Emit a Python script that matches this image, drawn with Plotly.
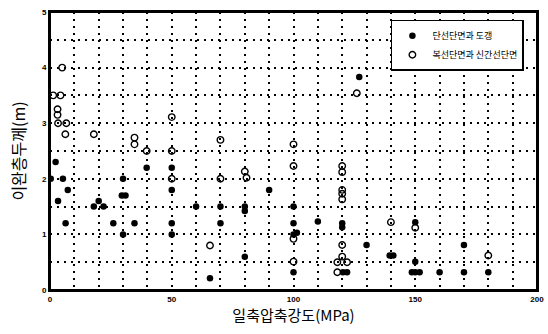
import plotly.graph_objects as go

# 단선단면과 도갱 (filled)
filled_x = [0.3, 2.3, 5.3, 3.3, 7.3, 6.4, 18, 20, 22, 26, 30, 29.5, 31, 30, 34.7, 39.7, 50, 50, 50, 50,
            60, 70, 70, 80, 80, 80, 65.7, 90, 100, 100, 100, 101.4, 100, 110, 120, 120, 120.3, 122,
            127, 130, 139.5, 141, 150, 150, 148.6, 150, 151.8, 160, 170, 170, 180]
filled_y = [2.0, 2.3, 2.0, 1.6, 1.8, 1.2, 1.5, 1.6, 1.5, 1.2, 2.0, 1.7, 1.7, 1.0, 1.2, 2.2, 2.2, 1.8, 1.2, 1.0,
            1.5, 1.5, 1.2, 1.5, 1.42, 0.6, 0.21, 1.8, 1.5, 1.2, 1.0, 1.03, 0.32, 1.23, 1.2, 1.13, 0.32, 0.32,
            3.83, 0.81, 0.62, 0.62, 1.22, 0.51, 0.32, 0.32, 0.32, 0.32, 0.81, 0.32, 0.32]

# 복선단면과 신간선단면 (open)
open_x = [1.3, 4.3, 5, 3.1, 3.1, 3.3, 6.7, 6.3, 18, 34.7, 34.7, 39.7, 50, 50, 50,
          70, 70, 80, 80.7, 65.7, 100, 100, 100, 100, 120, 120, 120, 120, 120, 120, 120, 122, 118, 118,
          126, 140, 150, 180]
open_y = [3.5, 3.5, 4.0, 3.25, 3.15, 3.0, 3.0, 2.8, 2.8, 2.74, 2.62, 2.5, 3.11, 2.5, 2.0,
          2.7, 2.0, 2.13, 2.02, 0.8, 2.62, 2.23, 0.92, 0.51, 2.23, 2.12, 1.8, 1.73, 1.63, 0.81, 0.6, 0.5, 0.5, 0.32,
          3.54, 1.22, 1.12, 0.62]

x_ticks = [0, 50, 100, 150, 200]
y_ticks = [0, 1, 2, 3, 4, 5]

fig = go.Figure()
fig.add_trace(go.Scatter(x=filled_x, y=filled_y, mode="markers", name="단선단면과 도갱",
                         marker=dict(symbol="circle", size=6.5, color="black", line=dict(color="black", width=0))))
fig.add_trace(go.Scatter(x=open_x, y=open_y, mode="markers", name="복선단면과 신간선단면",
                         marker=dict(symbol="circle-open", size=6.5, color="black", line=dict(color="black", width=1.4))))

DASH = "2px,5px"
axis_common = dict(showline=True, linecolor="black", linewidth=2, mirror=True, zeroline=False,
                   showgrid=True, gridcolor="black", griddash=DASH, gridwidth=1.5,
                   ticks="", automargin=False,
                   tickfont=dict(family="Liberation Sans", size=8, color="black", weight="bold"))

fig.update_layout(
    width=548, height=334,
    margin=dict(l=50, r=11, t=12, b=44),
    paper_bgcolor="white", plot_bgcolor="white",
    showlegend=True,
    legend=dict(x=0.70, y=0.972, xanchor="left", yanchor="top", bgcolor="white",
                bordercolor="black", borderwidth=1.5,
                font=dict(family="Noto Sans CJK KR", size=9, color="black"),
                itemwidth=30, tracegroupgap=0),
    xaxis=dict(range=[0, 200], tickvals=x_ticks, ticktext=[str(v) for v in x_ticks],
               minor=dict(dtick=10, showgrid=True, gridcolor="black", griddash=DASH, gridwidth=1.5),
               title=dict(text="일축압축강도(MPa)", font=dict(family="Noto Sans CJK KR", size=15, color="black"),
                          standoff=6),
               **axis_common),
    yaxis=dict(range=[0, 5], tickvals=y_ticks, ticktext=[str(v) for v in y_ticks],
               minor=dict(dtick=0.5, showgrid=True, gridcolor="black", griddash=DASH, gridwidth=1.5),
               title=dict(text="이완층두께(m)", font=dict(family="Noto Sans CJK KR", size=16, color="black"),
                          standoff=12),
               **axis_common),
    shapes=[dict(type="rect", xref="x domain", yref="y domain", x0=0, x1=1, y0=0, y1=1,
                 line=dict(color="black", width=2), fillcolor="rgba(0,0,0,0)", layer="above")],
)

fig.write_html("out.html", config={"displayModeBar": False},
               post_script="document.body.style.margin='0';document.body.style.overflow='hidden';")
